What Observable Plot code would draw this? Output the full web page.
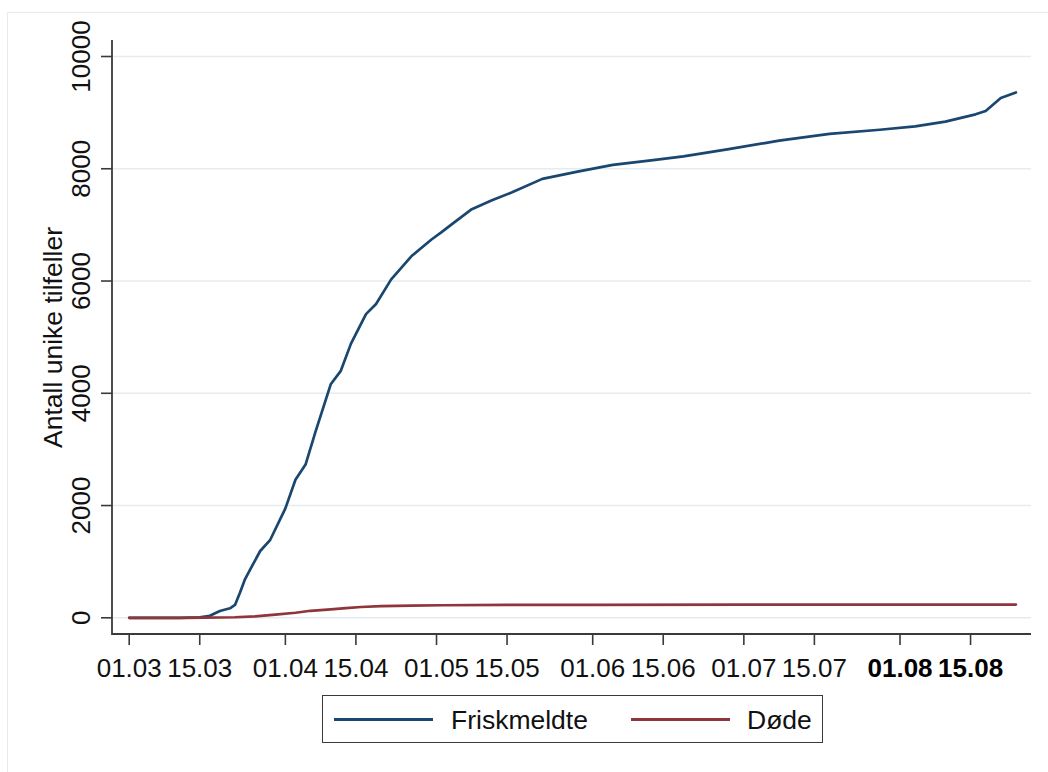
<!DOCTYPE html>
<html>
<head>
<meta charset="utf-8">
<script src="https://cdn.jsdelivr.net/npm/d3@7"></script>
<script src="https://cdn.jsdelivr.net/npm/@observablehq/plot@0.6"></script>
<style>
  body { margin: 0; background: #fff; font-family: "Liberation Sans", Arial, sans-serif; }
  #wrap { position: relative; width: 1048px; height: 772px; overflow: hidden; background: #fff; }
  #border { position: absolute; left: 7px; top: 12px; right: -10px; bottom: -10px;
            border-left: 1.5px solid #e4ecef; border-top: 1.5px solid #e4ecef; }
  #chart { position: absolute; left: 0; top: 0; }
  #legend { position: absolute; left: 322px; top: 695px; width: 499px; height: 46px;
            border: 1.5px solid #3a3a3a; background: #fff; }
  .sw { position: absolute; top: 22px; height: 3px; }
  .lab { position: absolute; top: 11px; font-size: 26.5px; line-height: 26px; color: #111; white-space: nowrap; }
</style>
</head>
<body>
<div id="wrap">
  <div id="border"></div>
  <div id="chart"></div>
  <div id="legend"></div>
</div>
<script>
// ---- data ----
const seriesNames = ["Friskmeldte", "Døde"];
const seriesColors = ["#1a476f", "#90353b"];
const yTitle = "Antall unike tilfeller";

const friskDates = ["2020-03-01","2020-03-11","2020-03-15","2020-03-17","2020-03-19","2020-03-21","2020-03-22",
  "2020-03-23","2020-03-24","2020-03-25","2020-03-27","2020-03-29","2020-04-01","2020-04-03","2020-04-05",
  "2020-04-07","2020-04-10","2020-04-12","2020-04-14","2020-04-17","2020-04-19","2020-04-22","2020-04-26",
  "2020-04-30","2020-05-02","2020-05-04","2020-05-08","2020-05-12","2020-05-16","2020-05-22","2020-05-29",
  "2020-06-05","2020-06-13","2020-06-19","2020-06-28","2020-07-08","2020-07-18","2020-07-28","2020-08-04",
  "2020-08-10","2020-08-16","2020-08-18","2020-08-21","2020-08-24"];
const friskValues = [0,0,10,35,120,170,230,
  450,690,860,1190,1390,1950,2460,2730,
  3320,4160,4400,4880,5410,5590,6030,6440,
  6740,6870,7010,7280,7440,7580,7820,7950,
  8070,8155,8220,8350,8500,8620,8695,8755,
  8840,8970,9030,9260,9360];

const dodeDates = ["2020-03-01","2020-03-12","2020-03-16","2020-03-22","2020-03-26","2020-03-30","2020-04-03",
  "2020-04-06","2020-04-10","2020-04-13","2020-04-16","2020-04-20","2020-04-26","2020-05-02","2020-05-15",
  "2020-06-01","2020-07-01","2020-07-29","2020-08-24"];
const dodeValues = [0,0,3,10,25,55,90,
  125,150,172,192,207,218,224,229,
  231,233,235,236];

const xTickDates = ["2020-03-01","2020-03-15","2020-04-01","2020-04-15","2020-05-01","2020-05-15",
  "2020-06-01","2020-06-15","2020-07-01","2020-07-15","2020-08-01","2020-08-15"];
const xTickBold = ["2020-08-01","2020-08-15"];
const yTicks = [0, 2000, 4000, 6000, 8000, 10000];

// ---- build ----
const parse = d3.utcParse("%Y-%m-%d");
const fmt = d3.utcFormat("%d.%m");
const frisk = friskDates.map((d, i) => ({date: parse(d), value: friskValues[i]}));
const dode = dodeDates.map((d, i) => ({date: parse(d), value: dodeValues[i]}));
const xNormal = xTickDates.filter(d => !xTickBold.includes(d)).map(parse);
const xBold = xTickBold.map(parse);

const axisStroke = "#3a3a3a";

// axis lines along the left and bottom edges of the frame
function axisLines(index, scales, values, dims) {
  const {width, height, marginLeft, marginRight, marginTop, marginBottom} = dims;
  const g = d3.create("svg:g").attr("stroke", axisStroke).attr("stroke-width", 1.8).attr("fill", "none");
  g.append("path").attr("d",
    `M${marginLeft},${marginTop}V${height - marginBottom}H${width - marginRight}`);
  return g.node();
}

const chart = Plot.plot({
  width: 1048,
  height: 772,
  marginLeft: 112,
  marginRight: 17,
  marginTop: 40,
  marginBottom: 138,
  style: {fontFamily: "'Liberation Sans', Arial, sans-serif", fontSize: "26px", color: "#111", background: "transparent", overflow: "visible"},
  x: {type: "utc", domain: [parse(friskDates[0]), parse(friskDates[friskDates.length - 1])], insetLeft: 16.7, insetRight: 15.6},
  y: {domain: [0, 10000], insetTop: 16, insetBottom: 16.7},
  marks: [
    Plot.gridY(yTicks, {stroke: "#e4ecef", strokeOpacity: 1, strokeWidth: 1.6}),
    Plot.axisY(yTicks, {tickSize: 11, tickFormat: () => "", stroke: axisStroke, strokeWidth: 1.6, label: null}),
    Plot.text(yTicks, {y: d => d, text: d => String(d), frameAnchor: "left", dx: -31, rotate: -90,
      textAnchor: "middle", lineAnchor: "middle", fontSize: 26, fill: "#111"}),
    Plot.text([yTitle], {text: d => d, frameAnchor: "left", dx: -59, rotate: -90,
      textAnchor: "middle", lineAnchor: "middle", fontSize: 26.5, fill: "#111"}),
    Plot.axisX(xNormal, {tickSize: 11, tickPadding: 13, tickFormat: fmt, stroke: axisStroke, strokeWidth: 1.6, label: null, fontSize: 26, fill: "#111"}),
    Plot.axisX(xBold, {tickSize: 11, tickPadding: 13, tickFormat: fmt, stroke: axisStroke, strokeWidth: 1.6, label: null, fontSize: 26, fontWeight: "bold", fill: "#000"}),
    axisLines,
    Plot.line(frisk, {x: "date", y: "value", stroke: seriesColors[0], strokeWidth: 2.7}),
    Plot.line(dode, {x: "date", y: "value", stroke: seriesColors[1], strokeWidth: 2.7})
  ]
});
document.getElementById("chart").appendChild(chart);

// ---- legend ----
const legend = document.getElementById("legend");
const items = [
  {sw: 11, lab: 128},
  {sw: 308, lab: 424}
];
seriesNames.forEach((name, i) => {
  const s = document.createElement("div");
  s.className = "sw";
  s.style.left = items[i].sw + "px";
  s.style.width = "99px";
  s.style.background = seriesColors[i];
  legend.appendChild(s);
  const t = document.createElement("div");
  t.className = "lab";
  t.style.left = items[i].lab + "px";
  t.textContent = name;
  legend.appendChild(t);
});
</script>
</body>
</html>
